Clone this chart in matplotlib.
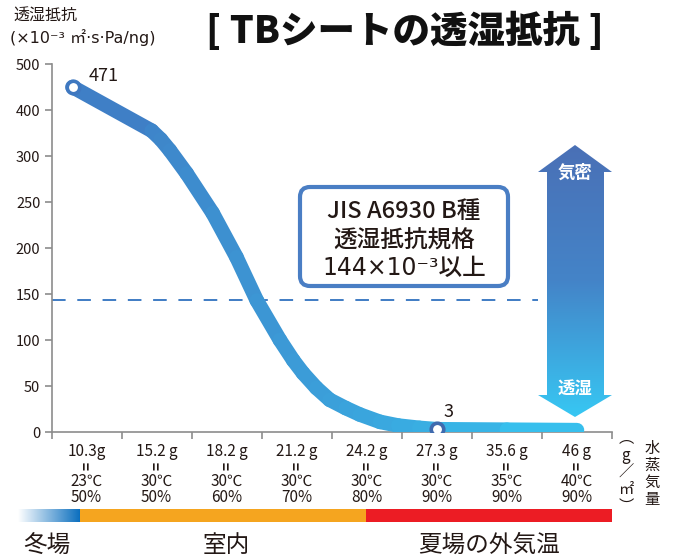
import numpy as np
import matplotlib
matplotlib.use("Agg")
import matplotlib.pyplot as plt
from matplotlib.collections import LineCollection
from matplotlib.patches import Polygon, FancyBboxPatch, Rectangle
from matplotlib.colors import LinearSegmentedColormap, to_rgb

plt.rcParams['font.family'] = ['Noto Sans CJK JP', 'DejaVu Sans']

# data
water = ["10.3g", "15.2 g", "18.2 g", "21.2 g", "24.2 g", "27.3 g", "35.6 g", "46 g"]
temps = ["23℃", "30℃", "30℃", "30℃", "30℃", "30℃", "35℃", "40℃"]
hums = ["50%", "50%", "60%", "70%", "80%", "90%", "90%", "90%"]

curve_x = [-0.2, 0.93, 1.06, 1.19, 1.43, 1.80, 2.14, 2.43, 2.76, 2.95, 3.09, 3.28, 3.47, 3.70, 3.90,
           4.19, 4.45, 4.75, 5.0, 6.0, 7.0]
curve_y = [450, 355, 336, 312, 281, 238, 190, 143, 100, 78, 64, 48, 35, 26, 19,
           11, 7, 4.5, 3, 2.5, 2]
marked = [0, 18]            # points with a circle marker
marked_text = ["471", "3"]

standard = 144
yticks = [0, 50, 100, 150, 200, 250, 300, 400, 500]

text_col = '#231815'


def fwd(v):
    v = np.asarray(v, dtype=float)
    return np.where(v <= 300, v, 300 + (v - 300) / 2)


def inv(d):
    d = np.asarray(d, dtype=float)
    return np.where(d <= 300, d, 300 + (d - 300) * 2)


fig = plt.figure(figsize=(6.74, 5.6), dpi=100)
W, H = 674, 560
ax = fig.add_axes([51.5 / W, 1 - 432 / H, (612 - 51.5) / W, (432 - 64) / H])
ax.set_yscale('function', functions=(fwd, inv))
ax.set_ylim(0, 500)
ax.set_xlim(-0.5, 7.5)
ax.set_yticks(yticks)
ax.set_yticklabels([str(t) for t in yticks], fontsize=10.5, color=text_col)
ax.set_xticks(np.arange(-0.5, 8, 1))
ax.set_xticklabels([])
ax.yaxis.set_minor_locator(plt.NullLocator())
for s in ['top', 'right']:
    ax.spines[s].set_visible(False)
for s in ['left', 'bottom']:
    ax.spines[s].set_color('#8c8c8c')
    ax.spines[s].set_linewidth(1.2)
ax.tick_params(axis='both', colors='#8c8c8c', length=5, width=1.2, pad=3)
ax.tick_params(axis='y', labelcolor=text_col)

# dashed standard line
ax.plot([-0.5, 6.45], [standard, standard], color='#3f7cc4', lw=1.4,
        dashes=(7, 6), zorder=2)

# gradient curve
pts = np.column_stack([curve_x, curve_y])
segs = np.stack([pts[:-1], pts[1:]], axis=1)
c0, c1 = np.array(to_rgb('#4079c2')), np.array(to_rgb('#36c4f0'))
mid = (np.array(curve_x[:-1]) + np.array(curve_x[1:])) / 2
t = (mid - curve_x[0]) / (curve_x[-1] - curve_x[0])
cols = [c0 + (c1 - c0) * tt for tt in t]
lc = LineCollection(segs, colors=cols, linewidths=10.5, capstyle='round',
                    joinstyle='round', zorder=3)
ax.add_collection(lc)

edge_cols = ['#3f78c0', '#3f6aae']
for i, ec in zip(marked, edge_cols):
    ax.plot(curve_x[i], curve_y[i], 'o', ms=9, mfc='white', mec=ec, mew=2.6, zorder=4)

# overlay in pixel coordinates
ov = fig.add_axes([0, 0, 1, 1], zorder=5)
ov.axis('off')

ov.text(89, 76, marked_text[0], fontsize=13, color=text_col, ha='left', va='center')
ov.text(444, 412, marked_text[1], fontsize=13, color=text_col, ha='left', va='center')

# title and y label
ov.text(405, 31, "[ TBシートの透湿抵抗 ]", fontsize=27, fontweight='black',
        color='#111111', ha='center', va='center')
ov.text(13, 15, "透湿抵抗", fontsize=11.5, color=text_col, ha='left', va='center')
ov.text(10, 38, "(×10⁻³ ㎡·s·Pa/ng)", fontsize=11.5, color=text_col, ha='left', va='center',
        family=['DejaVu Sans', 'Noto Sans CJK JP'])

# category labels
for i in range(8):
    cx = 51.5 + 70.06 * (i + 0.5)
    ov.text(cx, 452, water[i], fontsize=11, color=text_col, ha='center', va='center')
    ov.text(cx, 466, "=", fontsize=10, fontweight='bold', rotation=90, color=text_col,
            ha='center', va='center')
    ov.text(cx, 481, temps[i], fontsize=11, color=text_col, ha='center', va='center')
    ov.text(cx, 497, hums[i], fontsize=11, color=text_col, ha='center', va='center')

ov.text(626, 472, "︵\ng\n／\n㎡\n︶", fontsize=11, color=text_col, ha='center',
        va='center', linespacing=1.0)
ov.text(652, 474, "水\n蒸\n気\n量", fontsize=11, color=text_col, ha='center',
        va='center', linespacing=1.0)

# season strip
grad = np.linspace(0, 1, 256).reshape(1, -1)
blue_cmap = LinearSegmentedColormap.from_list('b', ['#ffffff', '#0b6fbf'])
ov.imshow(grad, cmap=blue_cmap, extent=(18, 80, 522, 509), aspect='auto', zorder=1)
ov.add_patch(Rectangle((80, 509), 286, 13, color='#f5a51f', lw=0, zorder=1))
ov.add_patch(Rectangle((366, 509), 246, 13, color='#ec1c24', lw=0, zorder=1))

ov.text(47, 545, "冬場", fontsize=17, color=text_col, ha='center', va='center')
ov.text(226, 545, "室内", fontsize=17, color=text_col, ha='center', va='center')
ov.text(489, 545, "夏場の外気温", fontsize=17, color=text_col, ha='center', va='center')

# JIS box
box = FancyBboxPatch((300, 187), 208, 99, boxstyle="round,pad=0,rounding_size=10",
                     fc='white', ec='#4a7ec4', lw=3, zorder=2)
ov.add_patch(box)
ov.text(404, 212, "JIS A6930 B種", fontsize=17, fontweight='medium', color=text_col,
        ha='center', va='center', zorder=3)
ov.text(404, 241, "透湿抵抗規格", fontsize=17, fontweight='medium', color=text_col,
        ha='center', va='center', zorder=3)
ov.text(404, 268, "144×10⁻³以上", fontsize=17, fontweight='medium', color=text_col,
        ha='center', va='center', zorder=3, family=['DejaVu Sans', 'Noto Sans CJK JP'])

# double arrow
arrow = [(575, 145), (612, 172), (604, 172), (604, 395), (612, 395), (575, 417),
         (538, 395), (547, 395), (547, 172), (538, 172)]
poly = Polygon(arrow, closed=True, fc='none', ec='none')
ov.add_patch(poly)
vgrad = np.linspace(0, 1, 256).reshape(-1, 1)
arrow_cmap = LinearSegmentedColormap.from_list('a', ['#4a70b6', '#4484c8', '#37c7f3'])
im = ov.imshow(vgrad, cmap=arrow_cmap, extent=(538, 612, 417, 145), aspect='auto', zorder=2)
im.set_clip_path(poly)
ov.text(575, 173, "気密", fontsize=12.5, fontweight='bold', color='white', ha='center', va='center', zorder=3)
ov.text(575, 389, "透湿", fontsize=12.5, fontweight='bold', color='white', ha='center', va='center', zorder=3)

ov.set_xlim(0, W)
ov.set_ylim(H, 0)

fig.savefig("out.png", dpi=100)
